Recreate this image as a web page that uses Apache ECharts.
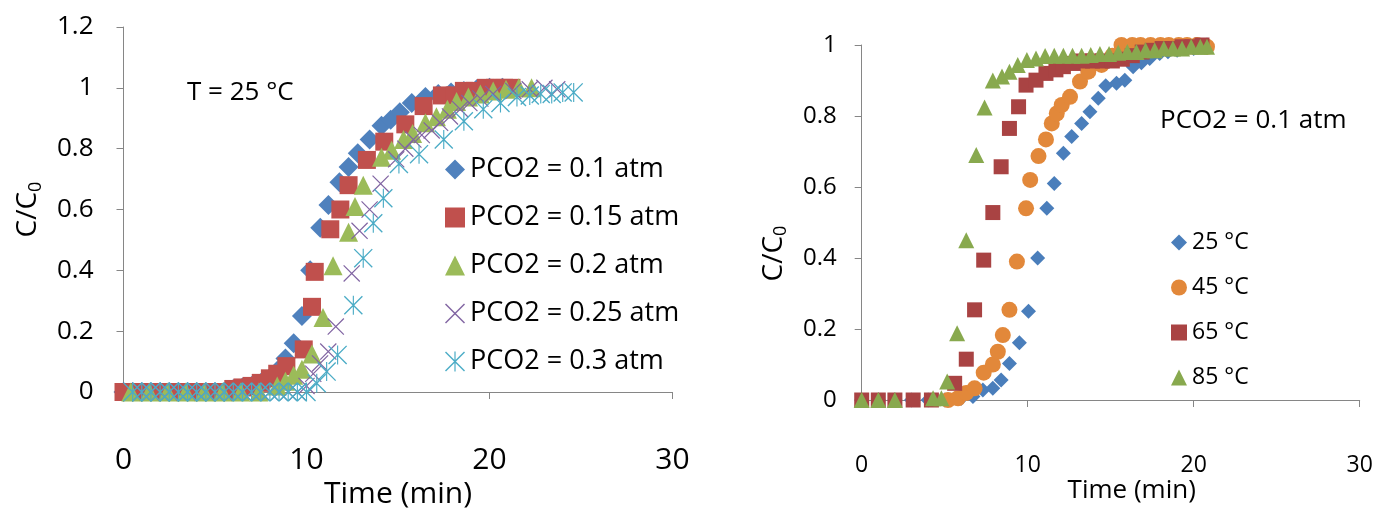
<!DOCTYPE html>
<html>
<head>
<meta charset="utf-8">
<script src="https://cdn.jsdelivr.net/npm/echarts@6/dist/echarts.min.js"></script>
<style>
  html, body { margin: 0; padding: 0; background: #fff; }
  #main { width: 1387px; height: 508px; }
</style>
</head>
<body>
<div id="main"></div>
<script>
// 左图: T = 25 °C, 不同 PCO2
var tA1 = [0, 0.5, 1, 1.5, 2, 2.5, 3, 3.5, 4, 4.5, 5, 5.5, 6, 6.5, 7, 7.5, 8, 8.4, 8.85, 9.3, 9.75, 10.2, 10.75, 11.2, 11.8, 12.3, 12.8, 13.45, 14.1, 14.6, 15.1, 15.75, 16.5, 17.2, 17.9, 18.6, 19.3, 20, 20.7];
var cA1 = [0, 0, 0, 0, 0, 0, 0, 0, 0, 0, 0, 0, 0.01, 0.015, 0.02, 0.03, 0.045, 0.07, 0.11, 0.16, 0.25, 0.40, 0.54, 0.615, 0.69, 0.74, 0.785, 0.83, 0.875, 0.895, 0.92, 0.95, 0.97, 0.98, 0.985, 0.99, 0.995, 1.0, 1.0];

var tA2 = [0, 0.5, 1, 1.5, 2, 2.5, 3, 3.5, 4, 4.5, 5, 5.5, 6, 6.5, 7, 7.5, 8, 8.4, 8.9, 9.85, 10.3, 10.45, 11.3, 11.85, 12.3, 13.3, 14.25, 15.4, 16.4, 17.4, 18.1, 18.6, 19.2, 19.8, 20.3, 20.8, 21.2];
var cA2 = [0, 0, 0, 0, 0, 0, 0, 0, 0, 0, 0, 0, 0.01, 0.015, 0.02, 0.03, 0.045, 0.06, 0.085, 0.14, 0.28, 0.395, 0.535, 0.60, 0.68, 0.763, 0.823, 0.88, 0.94, 0.975, 0.975, 0.99, 0.99, 1.0, 1.0, 1.0, 1.0];

var tA3 = [0.4, 1.4, 2.4, 3.4, 4.4, 5.4, 6.4, 7.4, 8.4, 8.85, 9.3, 9.75, 10.3, 10.9, 11.45, 12.3, 12.65, 13.1, 14.1, 14.65, 15.3, 15.8, 16.5, 17.1, 17.7, 18.2, 18.85, 19.5, 20.2, 20.9, 21.6, 22.3];
var cA3 = [0, 0, 0, 0, 0, 0, 0, 0, 0.02, 0.035, 0.055, 0.075, 0.125, 0.245, 0.415, 0.525, 0.61, 0.68, 0.772, 0.795, 0.83, 0.85, 0.885, 0.905, 0.93, 0.955, 0.97, 0.98, 0.99, 0.995, 1.0, 1.0];

var tA4 = [1, 1.5, 2, 2.5, 3, 3.5, 4, 4.5, 5, 5.5, 6, 6.5, 7, 7.5, 8, 8.5, 9, 9.5, 10, 10.37, 10.74, 11.19, 11.6, 12.47, 12.9, 13.45, 14.05, 14.9, 15.4, 15.84, 16.3, 16.84, 17.3, 17.84, 18.4, 18.9, 19.5, 20.2, 21.3, 22.2, 23, 23.7];
var cA4 = [0, 0, 0, 0, 0, 0, 0, 0, 0, 0, 0, 0, 0, 0, 0, 0, 0, 0, 0.02, 0.06, 0.094, 0.133, 0.215, 0.39, 0.53, 0.6, 0.685, 0.765, 0.80, 0.83, 0.845, 0.86, 0.885, 0.906, 0.93, 0.95, 0.965, 0.98, 0.99, 0.995, 1.0, 0.995];

var tA5 = [0.5, 1, 1.5, 2, 2.5, 3, 3.5, 4, 4.5, 5, 5.5, 6, 6.5, 7, 7.5, 8, 8.5, 9, 9.5, 10, 10.56, 11.1, 11.7, 12.56, 13.1, 13.65, 14.2, 15.05, 16.15, 17.5, 18.6, 19.66, 20.6, 21.5, 22.2, 22.8, 23.4, 24, 24.6];
var cA5 = [0, 0, 0, 0, 0, 0, 0, 0, 0, 0, 0, 0, 0, 0, 0, 0, 0, 0, 0, 0, 0.029, 0.067, 0.122, 0.285, 0.44, 0.555, 0.637, 0.75, 0.782, 0.83, 0.89, 0.93, 0.95, 0.97, 0.975, 0.98, 0.98, 0.985, 0.985];

// 右图: PCO2 = 0.1 atm, 不同温度
var tB1 = [0, 1, 2, 3, 4, 5, 6, 6.7, 7.3, 7.9, 8.4, 8.9, 9.5, 10.05, 10.6, 11.15, 11.6, 12.15, 12.65, 13.25, 13.75, 14.25, 14.7, 15.35, 15.85, 16.35, 16.85, 17.35, 17.95, 18.45, 19, 19.5, 20, 20.5, 20.8];
var cB1 = [0, 0, 0, 0, 0, 0, 0.005, 0.01, 0.028, 0.033, 0.056, 0.103, 0.161, 0.25, 0.4, 0.54, 0.61, 0.695, 0.742, 0.779, 0.812, 0.85, 0.885, 0.892, 0.901, 0.939, 0.95, 0.962, 0.976, 0.981, 0.985, 0.99, 0.99, 0.995, 1.0];

var tB2 = [5.2, 5.8, 6.3, 6.8, 7.35, 7.9, 8.2, 8.5, 8.9, 9.35, 9.9, 10.15, 10.65, 11.1, 11.45, 11.75, 12.05, 12.55, 13.15, 13.65, 14.45, 15.1, 15.65, 16.3, 16.8, 17.4, 18, 18.5, 19.1, 19.6, 20.2, 20.8];
var cB2 = [0, 0.005, 0.02, 0.033, 0.077, 0.1, 0.136, 0.183, 0.254, 0.39, 0.54, 0.62, 0.687, 0.734, 0.779, 0.807, 0.831, 0.854, 0.897, 0.925, 0.944, 0.97, 1.0, 1.0, 1.0, 1.0, 1.0, 1.0, 1.0, 1.0, 1.0, 0.995];

var tB3 = [0, 1, 2, 3.1, 4.2, 5.6, 6.3, 6.8, 7.35, 7.9, 8.4, 8.9, 9.45, 9.9, 10.5, 11.1, 11.7, 12.15, 12.75, 13.3, 13.9, 14.5, 15.1, 15.7, 16.3, 16.9, 17.5, 18.1, 18.7, 19.3, 19.9, 20.5];
var cB3 = [0, 0, 0, 0, 0, 0.047, 0.115, 0.254, 0.394, 0.528, 0.657, 0.765, 0.826, 0.887, 0.901, 0.92, 0.93, 0.939, 0.948, 0.955, 0.955, 0.955, 0.955, 0.96, 0.97, 0.98, 0.985, 0.99, 0.99, 0.995, 0.995, 1.0];

var tB4 = [0, 1, 2, 4.3, 4.8, 5.15, 5.75, 6.3, 6.9, 7.4, 7.9, 8.45, 8.9, 9.4, 9.95, 10.5, 11.05, 11.6, 12.15, 12.7, 13.25, 13.8, 14.35, 14.9, 15.45, 16, 16.55, 17.1, 17.65, 18.2, 18.75, 19.3, 19.85, 20.4, 20.8];
var cB4 = [0, 0, 0, 0.005, 0.005, 0.052, 0.188, 0.45, 0.69, 0.824, 0.9, 0.911, 0.925, 0.944, 0.958, 0.962, 0.969, 0.97, 0.97, 0.97, 0.97, 0.972, 0.975, 0.975, 0.978, 0.98, 0.98, 0.985, 0.985, 0.99, 0.99, 0.99, 0.995, 0.995, 0.995];

var namesA = ['PCO2 = 0.1 atm', 'PCO2 = 0.15 atm', 'PCO2 = 0.2 atm', 'PCO2 = 0.25 atm', 'PCO2 = 0.3 atm'];
var namesB = ['25 °C', '45 °C', '65 °C', '85 °C'];

(function () {
    var FONT = 'Open Sans';
    var myCharts = echarts.init(document.getElementById('main'));

    function pairs(xs, ys) {
        return xs.map(function (x, i) { return [x, ys[i]]; });
    }

    // 叉号 / 星号 标记 (细线用填充多边形画)
    var crossPath = 'path://M0 1 L1 0 L20 19 L19 20 Z M1 20 L0 19 L19 0 L20 1 Z';
    var starPath = 'path://M0 1 L1 0 L20 19 L19 20 Z M1 20 L0 19 L19 0 L20 1 Z M9.4 0 L10.6 0 L10.6 20 L9.4 20 Z';

    var axisLine = { show: true, lineStyle: { color: '#868686', width: 1 } };

    function scatter(name, xi, xs, ys, symbol, size, color) {
        return {
            name: name,
            type: 'scatter',
            xAxisIndex: xi,
            yAxisIndex: xi,
            symbol: symbol,
            symbolSize: size,
            itemStyle: { color: color, opacity: 1 },
            emphasis: { disabled: true },
            data: pairs(xs, ys)
        };
    }

    var cName = function (big, small) {
        return {
            fontFamily: FONT,
            color: '#000',
            rich: {
                c: { fontFamily: FONT, fontSize: big, color: '#000' },
                s: { fontFamily: FONT, fontSize: small, color: '#000', padding: [Math.round(big * 0.5), 0, 0, 0] }
            }
        };
    };

    var option = {
        animation: false,
        // v6 默认会收缩网格来容纳标签, 这里关掉, 位置按像素固定
        grid: [
            { left: 123.5, top: 27, width: 549, height: 365, outerBoundsMode: 'none' },
            { left: 861.7, top: 45, width: 498, height: 355, outerBoundsMode: 'none' }
        ],
        xAxis: [{
            gridIndex: 0, type: 'value', min: 0, max: 30, interval: 10,
            axisLine: axisLine,
            axisTick: { show: true, length: 7, lineStyle: { color: '#868686' } },
            axisLabel: { margin: 53, fontSize: 30, color: '#000', fontFamily: FONT },
            splitLine: { show: false },
            name: 'Time (min)', nameLocation: 'middle', nameGap: 87, nameMoveOverlap: false,
            nameTextStyle: { fontSize: 30, color: '#000', fontFamily: FONT }
        }, {
            gridIndex: 1, type: 'value', min: 0, max: 30, interval: 10,
            axisLine: axisLine,
            axisTick: { show: true, length: 7, lineStyle: { color: '#868686' } },
            axisLabel: { margin: 54, fontSize: 23, color: '#000', fontFamily: FONT },
            splitLine: { show: false },
            name: 'Time (min)', nameLocation: 'middle', nameGap: 78, nameMoveOverlap: false,
            nameTextStyle: { fontSize: 26, color: '#000', fontFamily: FONT, padding: [0, 0, 0, 42] }
        }],
        yAxis: [{
            gridIndex: 0, type: 'value', min: 0, max: 1.2, interval: 0.2,
            axisLine: axisLine,
            axisTick: { show: true, length: 7, lineStyle: { color: '#868686' } },
            axisLabel: { margin: 30, fontSize: 26, color: '#000', fontFamily: FONT },
            splitLine: { show: false },
            name: '{c|C/C}{s|0}', nameLocation: 'middle', nameGap: 79,
            nameTextStyle: cName(28, 18)
        }, {
            gridIndex: 1, type: 'value', min: 0, max: 1, interval: 0.2,
            axisLine: axisLine,
            axisTick: { show: true, length: 7, lineStyle: { color: '#868686' } },
            axisLabel: { margin: 25, fontSize: 24, color: '#000', fontFamily: FONT },
            splitLine: { show: false },
            name: '{c|C/C}{s|0}', nameLocation: 'middle', nameGap: 72,
            nameTextStyle: Object.assign(cName(28, 18), { padding: [0, 62, 0, 0] })
        }],
        legend: [{
            data: namesA,
            orient: 'vertical',
            left: 440, top: 151,
            itemWidth: 20, itemHeight: 20, itemGap: 21,
            textStyle: { fontSize: 27, color: '#000', fontFamily: FONT }
        }, {
            data: namesB,
            orient: 'vertical',
            left: 1166, top: 226,
            itemWidth: 16, itemHeight: 16, itemGap: 22,
            textStyle: { fontSize: 23, color: '#000', fontFamily: FONT }
        }],
        graphic: [{
            type: 'text', left: 187, top: 80,
            style: { text: 'T = 25 °C', fontSize: 26, fontFamily: FONT, fill: '#000' }
        }, {
            type: 'text', left: 1160, top: 108,
            style: { text: 'PCO2 = 0.1 atm', fontSize: 26, fontFamily: FONT, fill: '#000' }
        }],
        series: [
            scatter(namesA[0], 0, tA1, cA1, 'diamond', 20, '#4F81BD'),
            scatter(namesA[1], 0, tA2, cA2, 'rect', 18, '#C0504D'),
            scatter(namesA[2], 0, tA3, cA3, 'triangle', 19, '#9BBB59'),
            scatter(namesA[3], 0, tA4, cA4, crossPath, 17, '#8064A2'),
            scatter(namesA[4], 0, tA5, cA5, starPath, 19, '#4BACC6'),
            scatter(namesB[0], 1, tB1, cB1, 'diamond', 15, '#4A7EBB'),
            scatter(namesB[1], 1, tB2, cB2, 'circle', 16, '#E2883A'),
            scatter(namesB[2], 1, tB3, cB3, 'rect', 15, '#A94343'),
            scatter(namesB[3], 1, tB4, cB4, 'triangle', 16, '#88A94E')
        ]
    };

    myCharts.setOption(option);
})();
</script>
</body>
</html>
